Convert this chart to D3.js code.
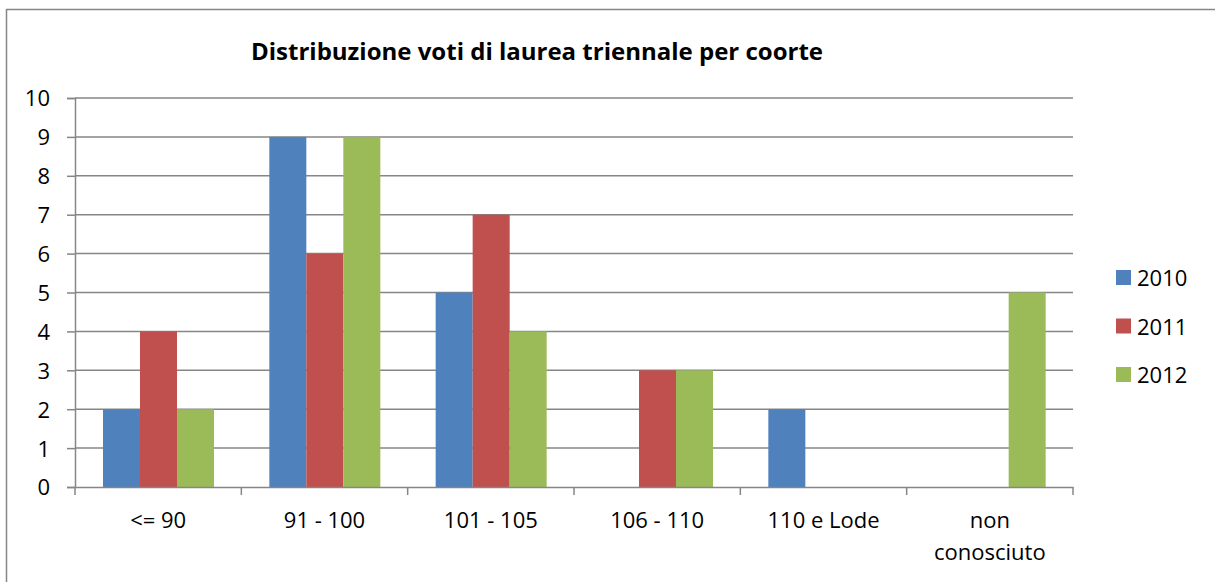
<!DOCTYPE html>
<html>
<head>
<meta charset="utf-8">
<script src="https://cdn.jsdelivr.net/npm/d3@7"></script>
<style>
  body { margin: 0; background: #fff; }
  text { font-family: "Open Sans", Lato, sans-serif; fill: #000; }
</style>
</head>
<body>
<div id="chart"></div>
<script>
const categories = ['<= 90', '91 - 100', '101 - 105', '106 - 110', '110 e Lode', 'non conosciuto'];
const seriesNames = ['2010', '2011', '2012'];
const values2010 = [2, 9, 5, 0, 2, 0];
const values2011 = [4, 6, 7, 3, 0, 0];
const values2012 = [2, 9, 4, 3, 0, 5];
const yTicks = [0, 1, 2, 3, 4, 5, 6, 7, 8, 9, 10];
const colors = ['#4F81BD', '#C0504D', '#9BBB59'];

const W = 1215, H = 582;
const plot = {left: 75, right: 1073, top: 98, bottom: 487};
const FONT = '22px';

const svg = d3.select('#chart').append('svg')
    .attr('width', W)
    .attr('height', H);

// outer frame of the chart area
svg.append('rect')
    .attr('x', 6.5).attr('y', 9.5)
    .attr('width', W + 20).attr('height', H + 20)
    .attr('fill', 'none')
    .attr('stroke', '#868686')
    .attr('stroke-width', 1.5);

const x0 = d3.scaleBand()
    .domain(categories)
    .range([plot.left, plot.right]);

const x1 = d3.scaleBand()
    .domain(seriesNames)
    .range([28, 139]);

const y = d3.scaleLinear()
    .domain([0, 10])
    .range([plot.bottom, plot.top]);

// y axis
const yAxis = svg.append('g')
    .attr('transform', `translate(${plot.left},0)`)
    .call(d3.axisLeft(y).tickValues(yTicks).tickSize(8).tickPadding(17).tickFormat(d3.format('d')));
yAxis.select('.domain').attr('stroke', '#868686').attr('stroke-width', 1.5);
yAxis.selectAll('.tick line').attr('stroke', '#868686').attr('stroke-width', 1.5);
yAxis.selectAll('.tick text').style('font-size', FONT).attr('dy', '0.36em');

// gridlines
svg.append('g')
    .selectAll('line')
    .data(yTicks.filter(d => d > 0))
    .join('line')
    .attr('x1', plot.left).attr('x2', plot.right)
    .attr('y1', d => y(d)).attr('y2', d => y(d))
    .attr('stroke', '#868686')
    .attr('stroke-width', 1.5);

// bars
const data = categories.map((c, i) => ({
    cat: c,
    vals: [values2010[i], values2011[i], values2012[i]]
}));

svg.append('g')
    .selectAll('g')
    .data(data)
    .join('g')
    .attr('transform', d => `translate(${x0(d.cat)},0)`)
    .selectAll('rect')
    .data(d => d.vals.map((v, k) => ({series: seriesNames[k], v, k})))
    .join('rect')
    .attr('x', d => x1(d.series))
    .attr('width', x1.bandwidth())
    .attr('y', d => y(d.v))
    .attr('height', d => y(0) - y(d.v))
    .attr('fill', d => colors[d.k]);

// x axis
const xAxis = svg.append('g')
    .attr('transform', `translate(0,${plot.bottom})`)
    .call(d3.axisBottom(x0).tickSize(0).tickFormat(''));
xAxis.select('.domain').attr('stroke', '#868686').attr('stroke-width', 1.5);

svg.append('g')
    .selectAll('line')
    .data(d3.range(categories.length + 1))
    .join('line')
    .attr('x1', i => plot.left + i * x0.step())
    .attr('x2', i => plot.left + i * x0.step())
    .attr('y1', plot.bottom)
    .attr('y2', plot.bottom + 8)
    .attr('stroke', '#868686')
    .attr('stroke-width', 1.5);

svg.append('g')
    .selectAll('text')
    .data(categories)
    .join('text')
    .attr('text-anchor', 'middle')
    .style('font-size', FONT)
    .attr('x', d => x0(d) + x0.bandwidth() / 2)
    .attr('y', 528)
    .each(function(d) {
        const words = d === 'non conosciuto' ? ['non', 'conosciuto'] : [d];
        d3.select(this).selectAll('tspan')
            .data(words)
            .join('tspan')
            .attr('x', x0(d) + x0.bandwidth() / 2)
            .attr('dy', (w, i) => i === 0 ? 0 : 32)
            .text(w => w);
    });

// title
svg.append('text')
    .attr('x', 537)
    .attr('y', 60)
    .attr('text-anchor', 'middle')
    .style('font-size', '24px')
    .style('font-weight', 'bold')
    .text('Distribuzione voti di laurea triennale per coorte');

// legend
const legend = svg.append('g')
    .selectAll('g')
    .data(seriesNames)
    .join('g')
    .attr('transform', (d, i) => `translate(1116,${278 + i * 48.5})`);
legend.append('rect')
    .attr('x', 0).attr('y', -8)
    .attr('width', 15).attr('height', 15)
    .attr('fill', (d, i) => colors[i]);
legend.append('text')
    .attr('x', 21).attr('y', 8)
    .style('font-size', FONT)
    .text(d => d);
</script>
</body>
</html>
